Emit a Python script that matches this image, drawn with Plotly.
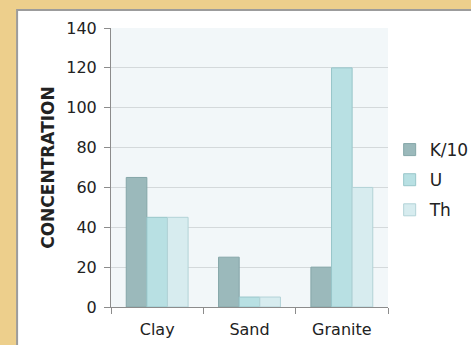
import plotly.graph_objects as go

# Sample types and measured concentrations
categories = ["Clay", "Sand", "Granite"]
k_over_10 = [65, 25, 20]
uranium = [45, 5, 120]
thorium = [45, 5, 60]
y_ticks = [0, 20, 40, 60, 80, 100, 120, 140]

series = [
    ("K/10", k_over_10, "#9BB9BB", "#84A6A8"),
    ("U", uranium, "#B8E0E3", "#98C6CA"),
    ("Th", thorium, "#D7ECEF", "#B3D3D7"),
]

FONT = "DejaVu Sans, Verdana, sans-serif"

fig = go.Figure()
for i, (name, vals, fill, edge) in enumerate(series):
    fig.add_trace(go.Bar(
        x=categories, y=vals, name=name, legendgroup=name,
        marker=dict(color=fill, line=dict(color=edge, width=1)),
    ))

fig.update_layout(
    width=471, height=345,
    margin=dict(l=111, r=83, t=28, b=38, autoexpand=False),
    paper_bgcolor="#EDCF8C",
    plot_bgcolor="rgba(0,0,0,0)",
    barmode="group", bargap=0.33, bargroupgap=0,
    font=dict(family=FONT, size=16, color="#222222"),
    showlegend=True,
    legend=dict(
        x=1.006, y=0.455, xanchor="left", yanchor="middle",
        font=dict(family=FONT, size=17, color="#222222"),
        bgcolor="rgba(0,0,0,0)", tracegroupgap=5,
        itemwidth=30, traceorder="grouped",
    ),
    shapes=[
        # white card behind the chart
        dict(type="rect", xref="paper", yref="paper",
             x0=-0.339, x1=1.6, y0=-0.3, y1=1.0645,
             fillcolor="white", line=dict(color="#9C9C9C", width=2),
             layer="below"),
        # pale plot area
        dict(type="rect", xref="paper", yref="paper",
             x0=0, x1=1, y0=0, y1=1,
             fillcolor="#F2F7F9", line=dict(width=0), layer="below"),
    ],
)

fig.update_yaxes(
    range=[0, 140], tickvals=y_ticks,
    showgrid=True, gridcolor="#D4D9DB", gridwidth=1,
    showline=True, linecolor="#8C8C8C", linewidth=1,
    ticks="outside", ticklen=6, tickcolor="#8C8C8C",
    ticklabelstandoff=4,
    zeroline=False,
    title=dict(text="<b>CONCENTRATION</b>", standoff=7,
               font=dict(family=FONT, size=17, color="#222222")),
)
fig.update_xaxes(
    showline=True, linecolor="#8C8C8C", linewidth=1,
    ticks="outside", ticklen=6, tickcolor="#8C8C8C",
    tickson="boundaries", showgrid=False,
    ticklabelstandoff=8,
)

fig.write_html("out.html")
